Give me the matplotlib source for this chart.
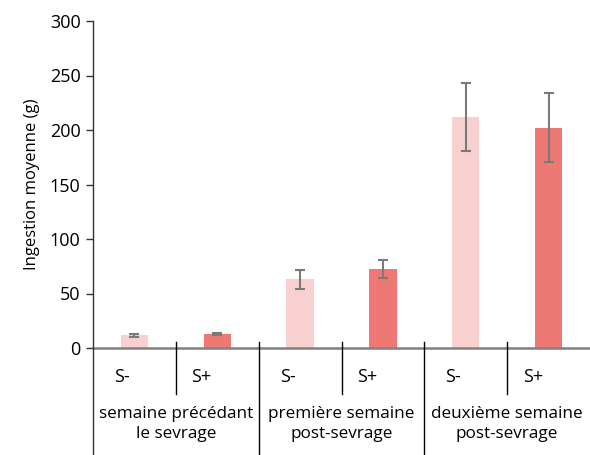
import matplotlib
matplotlib.use("Agg")
import matplotlib.pyplot as plt
from matplotlib.transforms import blended_transform_factory

plt.rcParams['font.family'] = ['Open Sans', 'DejaVu Sans']

periods = ["semaine précédant\nle sevrage", "première semaine\npost-sevrage", "deuxième semaine\npost-sevrage"]
treatments = ["S-", "S+"]
means_s_minus = [11.5, 63, 212]
means_s_plus = [13, 72.5, 202]
err_s_minus = [1.5, 9, 31]
err_s_plus = [1.2, 8.5, 31.5]
yticks = [0, 50, 100, 150, 200, 250, 300]

col_minus = "#F8D0D0"
col_plus = "#EE7874"
err_col = "#7a7a7a"

W, H = 590, 455
fig = plt.figure(figsize=(W / 100, H / 100), dpi=100)
ax = fig.add_axes([93 / W, (H - 348) / H, (W - 93) / W, (348 - 21) / H])

bar_w = 0.33
for i in range(len(periods)):
    for j, (m, e, c) in enumerate([(means_s_minus[i], err_s_minus[i], col_minus),
                                   (means_s_plus[i], err_s_plus[i], col_plus)]):
        x = 2 * i + j + 0.5
        ax.bar(x, m, width=bar_w, color=c, zorder=2)
        ax.errorbar(x, m, yerr=e, fmt='none', ecolor=err_col, elinewidth=1.5,
                    capsize=3.5, capthick=1.5, zorder=3)

ax.set_xlim(0, 6)
ax.set_ylim(0, 300)
ax.set_yticks(yticks)
ax.tick_params(axis='y', labelsize=13, length=5, width=1, color="#333333", pad=4)
ax.set_xticks([])
ax.set_ylabel("Ingestion moyenne (g)", fontsize=12, labelpad=7)

for s in ['top', 'right']:
    ax.spines[s].set_visible(False)
ax.spines['left'].set_visible(False)
ax.spines['bottom'].set_color("#808080")
ax.spines['bottom'].set_linewidth(1.8)
ax.spines['bottom'].set_zorder(4)

tr = blended_transform_factory(ax.transData, ax.transAxes)
px = 1 / (348 - 21)  # one pixel in axes-fraction units (vertical)

# left axis line, running down through the category area
ax.plot([0, 0], [1, -(455 - 348) * px], transform=tr, color="#333333", lw=1, clip_on=False, zorder=5)
# category dividers
for k in range(1, 6):
    y_low = -(455 - 348) * px if k % 2 == 0 else -(394 - 348) * px
    ax.plot([k, k], [6 * px, y_low], transform=tr, color="black", lw=1, clip_on=False, zorder=5)

# treatment labels
label_x = [0.35, 1.31, 2.35, 3.31, 4.35, 5.31]
for k in range(6):
    ax.text(label_x[k], -(377 - 348) * px, treatments[k % 2], transform=tr,
            ha='center', va='center', fontsize=13)

# period labels
for i, p in enumerate(periods):
    ax.text(2 * i + 1, -(424 - 348) * px, p, transform=tr, ha='center', va='center',
            fontsize=12.3, linespacing=1.4)

fig.savefig("out.png", dpi=100)
